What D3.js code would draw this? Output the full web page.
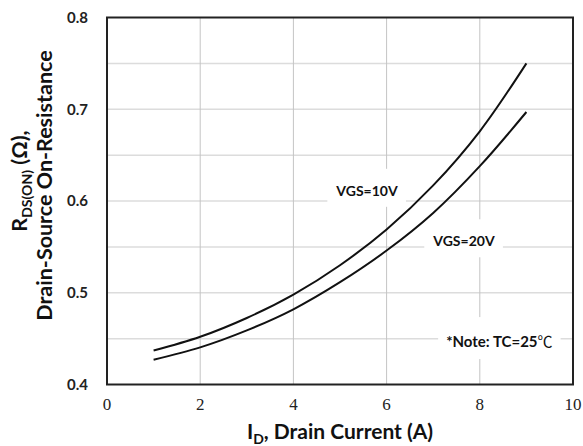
<!DOCTYPE html>
<html>
<head>
<meta charset="utf-8">
<script src="https://cdn.jsdelivr.net/npm/d3@7"></script>
<style>
  body { margin: 0; background: #fff; }
  svg { display: block; }
  .xtick { font-family: "Liberation Serif", Times, serif; }
</style>
</head>
<body>
<svg id="chart"></svg>
<script>
// drain current (A) and on-resistance (ohm)
const current = [1, 2, 3, 4, 5, 6, 7, 8, 9];
const rdsVgs10 = [0.437, 0.452, 0.4725, 0.498, 0.530, 0.569, 0.617, 0.676, 0.750];
const rdsVgs20 = [0.427, 0.4405, 0.459, 0.482, 0.5115, 0.546, 0.587, 0.638, 0.697];
const xTicks = [0, 2, 4, 6, 8, 10];
const yTicks = [0.4, 0.5, 0.6, 0.7, 0.8];
const yGrid = [0.45, 0.5, 0.55, 0.6, 0.65, 0.7, 0.75];
const notes = [
  { text: 'VGS=10V', x: 5.58, y: 0.611, size: 14 },
  { text: 'VGS=20V', x: 7.66, y: 0.556, size: 14 },
  { text: '*Note: TC=25\u2103', x: 8.42, y: 0.4465, size: 15 }
];

const width = 583, height = 446;
const margin = { top: 17.5, right: 10, bottom: 61.5, left: 107 };
const sans = 'Lato, "Open Sans", sans-serif';

const svg = d3.select('#chart')
  .attr('width', width)
  .attr('height', height);

const x = d3.scaleLinear()
  .domain([0, 10])
  .range([margin.left, width - margin.right]);

const y = d3.scaleLinear()
  .domain([0.4, 0.8])
  .range([height - margin.bottom, margin.top]);

// grid
svg.append('g')
  .selectAll('line')
  .data(yGrid)
  .join('line')
    .attr('x1', x(0)).attr('x2', x(10))
    .attr('y1', d => y(d)).attr('y2', d => y(d))
    .attr('stroke', '#dcdcdc')
    .attr('stroke-width', 1.5);

svg.append('g')
  .selectAll('line')
  .data(xTicks.slice(1, -1))
  .join('line')
    .attr('x1', d => x(d)).attr('x2', d => x(d))
    .attr('y1', y(0.4)).attr('y2', y(0.8))
    .attr('stroke', '#c4c4c4')
    .attr('stroke-width', 1);

// annotation labels sit on white boxes that hide the grid
const noteG = svg.append('g')
  .selectAll('g')
  .data(notes)
  .join('g')
    .attr('transform', d => `translate(${x(d.x)},${y(d.y)})`);

noteG.append('rect').attr('fill', '#fff');
noteG.append('text')
  .attr('text-anchor', 'middle')
  .attr('dy', '0.35em')
  .attr('font-family', sans)
  .attr('font-weight', 'bold')
  .attr('font-size', d => d.size)
  .attr('fill', '#111')
  .each(function (d) {
    const t = d3.select(this);
    if (d.text.endsWith('\u2103')) {
      t.append('tspan').text(d.text.slice(0, -1));
      t.append('tspan').attr('font-weight', 'normal')
        .attr('font-family', '"Noto Sans CJK SC", sans-serif').text('\u2103');
    } else {
      t.text(d.text);
    }
  });

noteG.each(function () {
  const g = d3.select(this);
  const bb = g.select('text').node().getBBox();
  g.select('rect')
    .attr('x', bb.x - 8).attr('width', bb.width + 16)
    .attr('y', bb.y - 13).attr('height', bb.height + 21);
});

// curves
const line = d3.line()
  .x((d, i) => x(current[i]))
  .y(d => y(d))
  .curve(d3.curveCatmullRom.alpha(0.5));

svg.append('g')
  .selectAll('path')
  .data([rdsVgs10, rdsVgs20])
  .join('path')
    .attr('d', line)
    .attr('fill', 'none')
    .attr('stroke', '#111')
    .attr('stroke-width', 2);

// frame
svg.append('rect')
  .attr('x', x(0)).attr('y', y(0.8))
  .attr('width', x(10) - x(0))
  .attr('height', y(0.4) - y(0.8))
  .attr('fill', 'none')
  .attr('stroke', '#222')
  .attr('stroke-width', 2);

// tick labels
svg.append('g')
  .selectAll('text')
  .data(xTicks)
  .join('text')
    .attr('class', 'xtick')
    .attr('x', d => x(d))
    .attr('y', 410)
    .attr('text-anchor', 'middle')
    .attr('font-size', 17)
    .attr('fill', '#222')
    .text(d => d);

svg.append('g')
  .selectAll('text')
  .data(yTicks)
  .join('text')
    .attr('x', 88)
    .attr('y', d => y(d))
    .attr('dy', '0.35em')
    .attr('text-anchor', 'end')
    .attr('font-family', sans)
    .attr('font-weight', 'bold')
    .attr('font-size', 15)
    .attr('fill', '#222')
    .text(d => d.toFixed(1));

// axis titles
const xTitle = svg.append('text')
  .attr('x', 340)
  .attr('y', 439)
  .attr('text-anchor', 'middle')
  .attr('font-family', sans)
  .attr('font-weight', 'bold')
  .attr('font-size', 21)
  .attr('fill', '#111');
xTitle.append('tspan').text('I');
xTitle.append('tspan').attr('font-size', 14).attr('dy', 5).text('D');
xTitle.append('tspan').attr('dy', -5).text(', Drain Current (A)');

const yTitle1 = svg.append('text')
  .attr('transform', 'translate(27,181) rotate(-90)')
  .attr('text-anchor', 'middle')
  .attr('font-family', sans)
  .attr('font-weight', 'bold')
  .attr('font-size', 21.5)
  .attr('fill', '#111');
yTitle1.append('tspan').text('R');
yTitle1.append('tspan').attr('font-size', 14).attr('dy', 5).text('DS(ON)');
yTitle1.append('tspan').attr('dy', -5).text(' (\u03A9),');

svg.append('text')
  .attr('transform', 'translate(52,185.5) rotate(-90)')
  .attr('text-anchor', 'middle')
  .attr('font-family', sans)
  .attr('font-weight', 'bold')
  .attr('font-size', 21.5)
  .attr('fill', '#111')
  .text('Drain-Source On-Resistance');
</script>
</body>
</html>
